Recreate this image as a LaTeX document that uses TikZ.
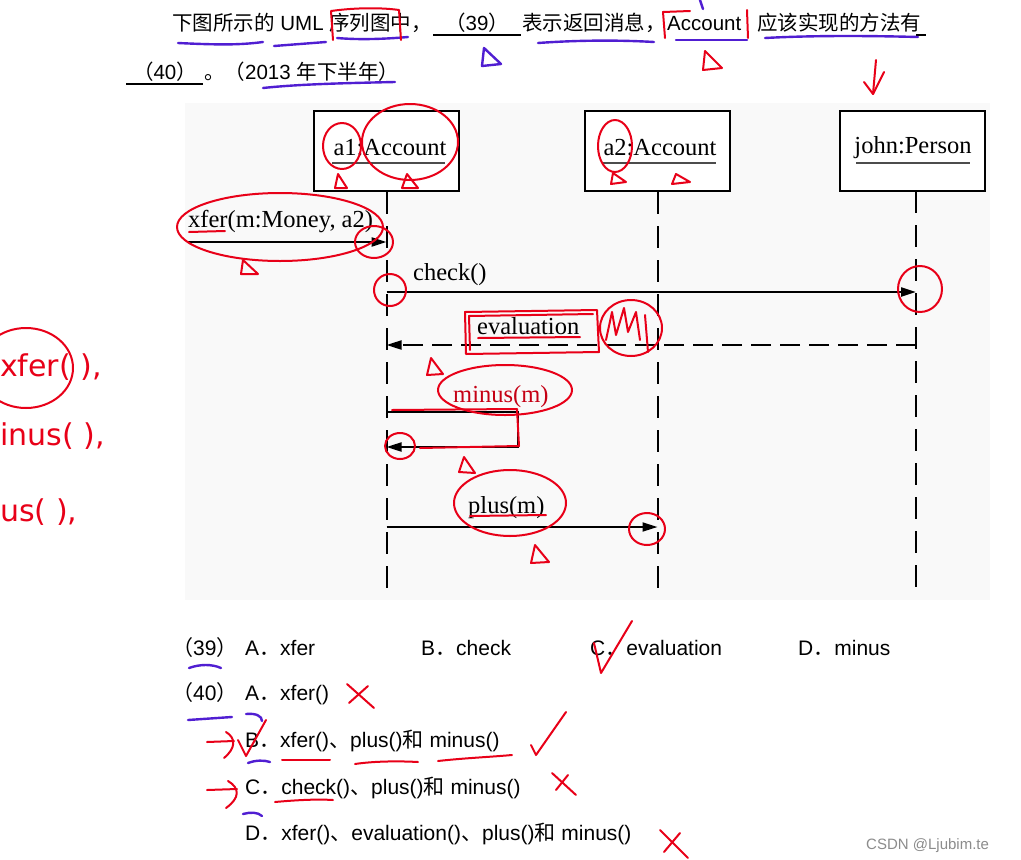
\documentclass[tikz,border=0pt]{standalone}
\usepackage{fontspec}
\setmainfont{Liberation Sans}
\newfontfamily\cjk{Noto Sans CJK SC}
\newfontfamily\tms{Liberation Serif}
\newfontfamily\hand{DejaVu Sans}
\usetikzlibrary{arrows.meta}
\definecolor{annred}{RGB}{232,0,24}
\definecolor{annpur}{RGB}{80,30,210}
\definecolor{bgdia}{RGB}{249,249,249}
\newcommand{\zh}[1]{{\cjk #1}}
\begin{document}
\begin{tikzpicture}[x=1pt,y=-1pt,
 txt/.style={inner sep=0pt, anchor=base west, font=\fontsize{20.5}{24}\selectfont},
 otxt/.style={inner sep=0pt, anchor=base west, font=\fontsize{21}{24}\selectfont},
 dtxt/.style={inner sep=0pt, anchor=base, font=\tms\fontsize{24.5}{28}\selectfont},
 mtxt/.style={inner sep=0pt, anchor=base west, font=\tms\fontsize{24.5}{28}\selectfont},
 objbox/.style={draw, line width=2pt, minimum width=145pt, minimum height=80pt, inner sep=0pt, fill=white},
 uline/.style={line width=2pt, black!70},
 lifeline/.style={line width=2pt, dash pattern=on 22pt off 12pt},
 msg/.style={line width=2.2pt, -{Triangle[length=15pt,width=9pt]}},
 retmsg/.style={line width=2pt, dash pattern=on 20pt off 9pt, -{Triangle[length=15pt,width=9pt]}},
 ann/.style={annred, line width=2pt, line cap=round, line join=round},
 annp/.style={annpur, line width=2.4pt, line cap=round, line join=round},
 hw/.style={inner sep=0pt, anchor=west, text=annred, font=\hand\fontsize{30}{34}\selectfont},
]
\useasboundingbox (0,0) rectangle (1021,860);
\fill[white] (0,0) rectangle (1021,860);
\fill[bgdia] (185,103) rectangle (990,600);

% ---------- question text ----------
\node[txt] (q1) at (172,30) {\zh{下图所示的} UML \zh{序列图中，}};
\node[inner sep=0pt, anchor=base, font=\fontsize{20.5}{24}\selectfont] (q39) at (477,30) {\zh{（}39\zh{）}};
\coordinate (b39a) at (433,35); \coordinate (b39b) at (521,35);
\draw[line width=1.3pt] (b39a) -- (b39b);
\node[txt] (q2) at (522,30) {\zh{表示返回消息，}};
\node[txt] (qacc) at (667,30) {Account};
\node[txt] (q3) at (757,30) {\zh{应该实现的方法有}};
\coordinate (b40e1) at (916,35); \coordinate (b40e2) at (926,35);
\draw[line width=1.3pt] (b40e1) -- (b40e2);
\node[inner sep=0pt, anchor=base, font=\fontsize{20.5}{24}\selectfont] (q40) at (165,79) {\zh{（}40\zh{）}};
\coordinate (b40a) at (126,84); \coordinate (b40b) at (203,84);
\draw[line width=1.3pt] (b40a) -- (b40b);
\node[txt] (q4) at (204,79) {\zh{。（}2013 \zh{年下半年）}};

% ---------- sequence diagram ----------
\node[objbox] (a1) at (386.5,151) {};
\node[objbox] (a2) at (657.5,151) {};
\node[objbox] (john) at (912,151) {};
\node[dtxt] (a1t) at (390,155) {a1:Account};
\node[dtxt] (a2t) at (660,155) {a2:Account};
\node[dtxt] (jt) at (913,153) {john:Person};
\draw[uline] ([xshift=-1pt,yshift=-8pt]a1t.base west) -- ([xshift=-2pt,yshift=-8pt]a1t.base east);
\draw[uline] ([xshift=-1pt,yshift=-8pt]a2t.base west) -- ([xshift=-1pt,yshift=-8pt]a2t.base east);
\draw[uline] ([xshift=2pt,yshift=-10pt]jt.base west) -- ([xshift=-2pt,yshift=-10pt]jt.base east);

\coordinate (a1end) at (386.5,598);
\coordinate (a2end) at (657.5,598);
\coordinate (jtop) at (916,191);
\coordinate (jend) at (916,598);
\draw[lifeline] (a1.south) -- (a1end);
\draw[lifeline] (a2.south) -- (a2end);
\draw[lifeline] (jtop) -- (jend);

% xfer
\coordinate (xs) at (188,242); \coordinate (xe) at (386.5,242);
\draw[msg] (xs) -- (xe);
\node[mtxt] (lx) at (188,227) {xfer(m:Money, a2)};
% check
\coordinate (cs) at (386.5,292); \coordinate (ce) at (916,292);
\draw[msg] (cs) -- (ce);
\node[mtxt] (lc) at (413,280) {check()};
% evaluation
\coordinate (es) at (916,345); \coordinate (ee) at (386.5,345);
\draw[retmsg] (es) -- (ee);
\node[mtxt] (le) at (477,334) {evaluation};
% minus
\coordinate (ms) at (386.5,412); \coordinate (mr1) at (518,412); \coordinate (mr2) at (518,447); \coordinate (me) at (386.5,447);
\draw[msg, line width=2pt] (ms) -- (mr1) -- (mr2) -- (me);
\node[mtxt, text=annred!85!black] (lm) at (453,402) {minus(m)};
% plus
\coordinate (ps) at (386.5,527); \coordinate (pe) at (657.5,527);
\draw[msg, line width=1.8pt] (ps) -- (pe);
\node[mtxt] (lp) at (468,513) {plus(m)};

% ---------- options ----------
\node[otxt] (o39) at (172,655) {\zh{（}39\zh{）}};
\node[otxt] (o39a) at (245,655) {A\zh{．}xfer};
\node[otxt] (o39b) at (421,655) {B\zh{．}check};
\node[otxt] (o39c) at (590,655) {C\zh{．}evaluation};
\node[otxt] (o39d) at (798,655) {D\zh{．}minus};
\node[otxt] (o40) at (172,700) {\zh{（}40\zh{）}};
\node[otxt] (o40a) at (245,700) {A\zh{．}xfer()};
\node[otxt] (o40b) at (245,747) {B\zh{．}xfer()\zh{、}plus()\zh{和} minus()};
\node[otxt] (o40c) at (245,794) {C\zh{．}check()\zh{、}plus()\zh{和} minus()};
\node[otxt] (o40d) at (245,840) {D\zh{．}xfer()\zh{、}evaluation()\zh{、}plus()\zh{和} minus()};
\node[inner sep=0pt, anchor=base west, text=black!45, font=\fontsize{15}{18}\selectfont] (wm) at (866,849) {CSDN @Ljubim.te};

% ---------- handwritten annotations ----------
% top text
\draw[annp] (178,43) .. controls (220,45) and (240,45) .. (263,42);
\draw[annp] (274,46) -- (326,42);
\draw[annp] (337,38) .. controls (360,40) and (385,39) .. (408,37);
\draw[ann] (333,40) -- (331,11) .. controls (360,7) and (385,8) .. (399,10) -- (401,40);
\draw[annp] (482,66) -- (484,48) -- (501,64) -- cycle;
\draw[annp] (538,43) .. controls (580,40) and (620,40) .. (654,42);
\draw[ann] (665,38) -- (663,12) -- (690,11);
\draw[ann] (748,38) -- (747,10);
\draw[annp] (676,40) -- (747,40);
\draw[ann] (703,70) -- (705,51) -- (722,68) -- cycle;
\draw[annp] (700,0) -- (703,9);
\draw[annp] (765,38) .. controls (820,35) and (880,36) .. (918,37);
\draw[ann] (876,60) -- (873,94);
\draw[ann] (864,82) -- (873,94) -- (884,72);
\draw[annp] (263,88) .. controls (300,84) and (350,83) .. (395,82);

% diagram
\draw[ann] (342,146) ellipse [x radius=19pt, y radius=23pt];
\draw[ann] (410,142) ellipse [x radius=48pt, y radius=38pt];
\draw[ann] (335,188) -- (338,174) -- (347,188) -- cycle;
\draw[ann] (402,188) -- (407,174) -- (418,188) -- cycle;
\draw[ann] (615,146) ellipse [x radius=17pt, y radius=26pt];
\draw[ann] (611,184) -- (613,173) -- (626,182) -- cycle;
\draw[ann] (672,184) -- (676,174) -- (690,182) -- cycle;
\draw[ann] (280,227) ellipse [x radius=103pt, y radius=34pt];
\draw[ann] (374,242) ellipse [x radius=19pt, y radius=16pt];
\draw[ann] (189,232) -- (225,231);
\draw[ann] (241,274) -- (243,260) -- (258,274) -- cycle;
\draw[ann] (390,290) ellipse [x radius=16pt, y radius=16pt];
\draw[ann] (920,289) ellipse [x radius=22pt, y radius=23pt];
\draw[ann] (466,354) -- (465,312) -- (597,310) -- (599,352) -- cycle;
\draw[ann] (470,350) -- (469,316) -- (593,314);
\draw[ann] (478,338) -- (580,337);
\draw[ann] (631,328) ellipse [x radius=31pt, y radius=28pt];
\draw[ann] (606,340) -- (612,312) -- (616,335) -- (624,308) -- (628,332) -- (636,312) -- (640,340) (645,315) -- (648,352);
\draw[ann] (427,375) -- (431,358) -- (443,374) -- cycle;
\draw[ann] (505,390) ellipse [x radius=67pt, y radius=25pt];
\draw[ann] (392,410) -- (517,409) -- (519,446) -- (420,448);
\draw[ann] (400,446) ellipse [x radius=15pt, y radius=13pt];
\draw[ann] (459,472) -- (464,457) -- (475,473) -- cycle;
\draw[ann] (510,503) ellipse [x radius=56pt, y radius=33pt];
\draw[ann] (470,516) -- (546,515);
\draw[ann] (647,529) ellipse [x radius=18pt, y radius=16pt];
\draw[ann] (531,563) -- (535,545) -- (549,562) -- cycle;

% options
\draw[annp] (189,668) .. controls (200,664) and (212,664) .. (221,668);
\draw[ann] (594,643) -- (601,673) -- (632,621);
\draw[ann] (347,684) -- (374,708);
\draw[ann] (368,686) -- (349,703);
\draw[annp] (188,720) -- (232,717);
\draw[annp] (246,714) .. controls (256,713) and (262,716) .. (262,721);
\draw[ann] (207,742) -- (234,741);
\draw[ann] (226,732) .. controls (236,738) and (236,748) .. (224,758);
\draw[ann] (238,740) -- (246,756) -- (266,720);
\draw[annp] (248,763) .. controls (256,760) and (264,760) .. (270,762);
\draw[ann] (282,760) -- (330,760);
\draw[ann] (355,764) .. controls (375,761) and (400,761) .. (418,762);
\draw[ann] (438,761) .. controls (465,758) and (490,757) .. (512,755);
\draw[ann] (531,745) -- (536,755) -- (566,712);
\draw[ann] (207,790) -- (237,789);
\draw[ann] (228,781) .. controls (240,788) and (240,798) .. (226,808);
\draw[ann] (275,802) .. controls (297,800) and (317,799) .. (333,800);
\draw[annp] (243,814) .. controls (250,812) and (258,812) .. (262,816);
\draw[ann] (552,773) -- (576,795);
\draw[ann] (568,775) -- (556,790);
\draw[ann] (660,830) -- (688,858);
\draw[ann] (680,833) -- (664,852);

% left margin handwriting
\draw[ann] (26,368) ellipse [x radius=47pt, y radius=40pt];
\node[hw] (h1) at (0,367) {xfer( ),};
\node[hw] (h2) at (0,436) {inus( ),};
\node[hw] (h3) at (0,512) {us( ),};
\end{tikzpicture}
\end{document}
